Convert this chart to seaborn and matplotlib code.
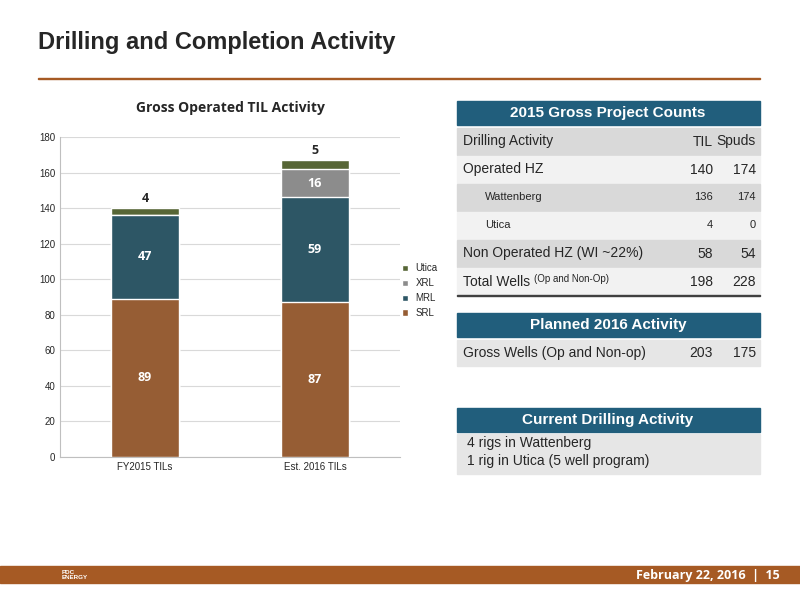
import matplotlib
matplotlib.use('Agg')
import matplotlib.pyplot as plt
import seaborn as sns
import pandas as pd
from matplotlib.patches import Rectangle

categories = ['FY2015 TILs', 'Est. 2016 TILs']
srl = [89, 87]
mrl = [47, 59]
xrl = [0, 16]
utica = [4, 5]
series = ['SRL', 'MRL', 'XRL', 'Utica']
colors = {'SRL': '#A65A24', 'MRL': '#245B6E', 'XRL': '#8C8C8C', 'Utica': '#5A6E2E'}

counts_rows = [('Drilling Activity', 'TIL', 'Spuds'),
               ('Operated HZ', '140', '174'),
               ('Wattenberg', '136', '174'),
               ('Utica', '4', '0'),
               ('Non Operated HZ (WI ~22%)', '58', '54'),
               ('Total Wells', '198', '228')]
planned_row = ('Gross Wells (Op and Non-op)', '203', '175')
current_lines = ['4 rigs in Wattenberg', '1 rig in Utica (5 well program)']

sns.set_style('white')
plt.rcParams['font.family'] = ['Liberation Sans', 'DejaVu Sans']
fig = plt.figure(figsize=(8, 6), dpi=100)

def fx(x): return x / 800
def fy(y): return 1 - y / 600

# slide chrome
fig.text(fx(38), fy(43), 'Drilling and Completion Activity', fontsize=17, fontweight='bold', va='center')
fig.add_artist(Rectangle((fx(38), fy(79)), fx(722), 0.002, color='#A65A24', transform=fig.transFigure))
fig.add_artist(Rectangle((0, fy(583)), 1, 17 / 600, color='#A65A24', transform=fig.transFigure))
fig.text(fx(780), fy(575), 'February 22, 2016  |  15', color='white', fontsize=9, ha='right', va='center',
         fontweight='bold', family=['Open Sans'])
fig.text(fx(62), fy(575), 'PDC\nENERGY', color='white', fontsize=4.5, va='center', fontweight='bold')

# chart
df = pd.DataFrame({'cat': categories, 'SRL': srl, 'MRL': mrl, 'XRL': xrl, 'Utica': utica})
ax = fig.add_axes([fx(60), fy(457), fx(340), (457 - 137) / 600])
bottom = [0, 0]
for s in series:
    vals = df[s].tolist()
    sns.barplot(x=df['cat'], y=[b + v for b, v in zip(bottom, vals)], color=colors[s], ax=ax,
                width=0.4, zorder=5 - series.index(s), edgecolor='white', linewidth=1, label=s)
    for i, v in enumerate(vals):
        if v == 0:
            continue
        if s == 'Utica':
            ax.text(i, bottom[i] + v + 2, str(v), ha='center', va='bottom', fontsize=9, fontweight='bold',
                    family=['Open Sans'])
        else:
            ax.text(i, bottom[i] + v / 2, str(v), ha='center', va='center', fontsize=9, fontweight='bold',
                    color='white', zorder=10, family=['Open Sans'])
    bottom = [b + v for b, v in zip(bottom, vals)]
ax.set_ylim(0, 180)
ax.set_yticks(range(0, 181, 20))
ax.tick_params(labelsize=7, length=0)
ax.set_xlabel('')
ax.set_ylabel('')
ax.grid(axis='y', color='#D9D9D9', lw=0.8)
ax.set_axisbelow(True)
for sp in ['top', 'right']:
    ax.spines[sp].set_visible(False)
ax.spines['left'].set_color('#BFBFBF')
ax.spines['bottom'].set_color('#BFBFBF')
ax.set_title('Gross Operated TIL Activity', fontsize=10, fontweight='bold', pad=18, family=['Open Sans'])
h, l = ax.get_legend_handles_labels()
ax.legend(h[::-1], l[::-1], loc='center left', bbox_to_anchor=(0.98, 0.52), frameon=False, fontsize=7,
          handlelength=0.6, handleheight=0.6)

# tables
blue = '#215E7C'
def box(x0, y0, w, h, c):
    fig.add_artist(Rectangle((fx(x0), fy(y0 + h)), w / 800, h / 600, color=c, transform=fig.transFigure))

def header(y0, text):
    box(457, y0, 303, 24, blue)
    fig.text(fx(608), fy(y0 + 12), text, color='white', fontsize=11, fontweight='bold', ha='center', va='center')

header(101, '2015 Gross Project Counts')
row_y = [128, 156, 184, 212, 240, 268]
shades = ['#D9D9D9', '#F2F2F2', '#D9D9D9', '#F2F2F2', '#D9D9D9', '#F2F2F2']
for (lab, a, b), y0, c in zip(counts_rows, row_y, shades):
    box(457, y0, 303, 27, c)
    indent = lab in ('Wattenberg', 'Utica')
    fs = 8 if indent else 10
    cy = fy(y0 + 13.5)
    fig.text(fx(485 if indent else 463), cy, lab, fontsize=fs, va='center')
    fig.text(fx(713), cy, a, fontsize=fs, va='center', ha='right')
    fig.text(fx(756), cy, b, fontsize=fs, va='center', ha='right')
fig.text(fx(534), fy(268 + 11), '(Op and Non-Op)', fontsize=7, va='center')
fig.add_artist(Rectangle((fx(457), fy(296)), 303 / 800, 0.002, color='#404040', transform=fig.transFigure))

header(313, 'Planned 2016 Activity')
box(457, 340, 303, 26, '#E6E6E6')
fig.text(fx(463), fy(353), planned_row[0], fontsize=10, va='center')
fig.text(fx(713), fy(353), planned_row[1], fontsize=10, va='center', ha='right')
fig.text(fx(756), fy(353), planned_row[2], fontsize=10, va='center', ha='right')

header(408, 'Current Drilling Activity')
box(457, 434, 303, 40, '#E6E6E6')
fig.text(fx(467), fy(443), current_lines[0], fontsize=10, va='center')
fig.text(fx(467), fy(461), current_lines[1], fontsize=10, va='center')

fig.savefig('out.png', dpi=100)
